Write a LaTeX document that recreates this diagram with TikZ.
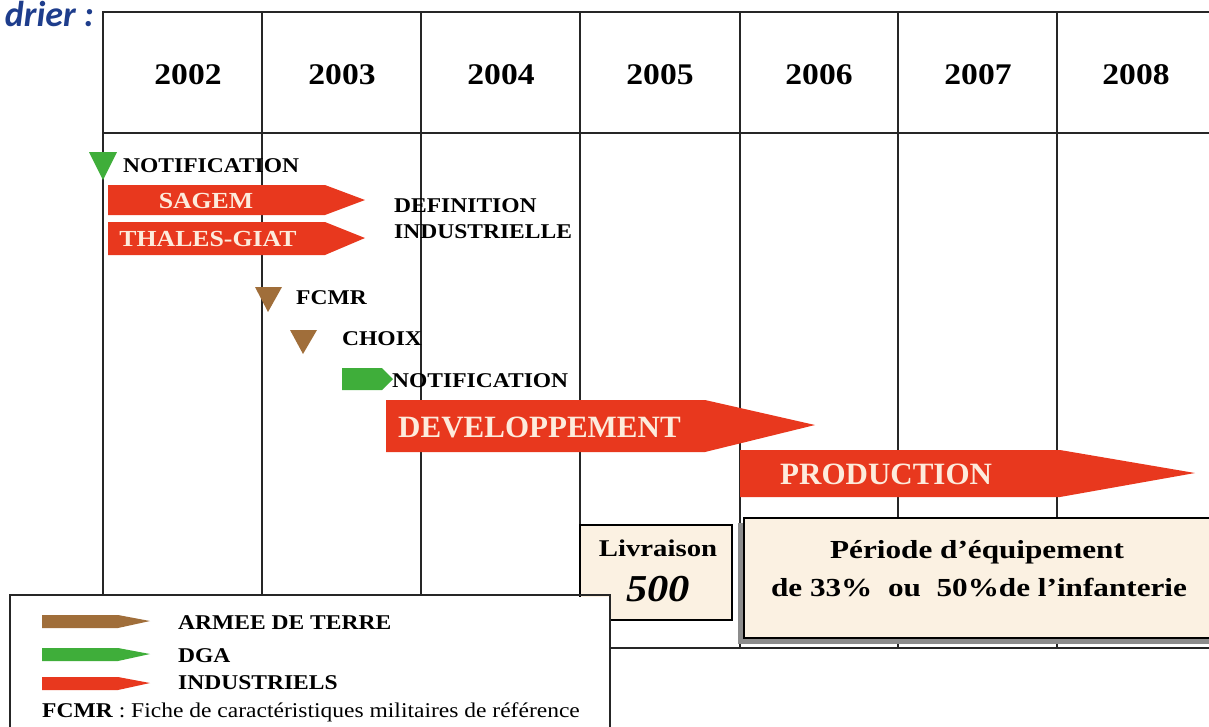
\documentclass[tikz,border=0pt]{standalone}
\usepackage{fontspec}
\setmainfont{Liberation Serif}
\newfontfamily\yearfont{Liberation Serif}[FakeStretch=1.12]
\newfontfamily\boxfont{Liberation Serif}[FakeStretch=1.2]
\newfontfamily\titlefont{Carlito}
\definecolor{redbar}{HTML}{E8381E}
\definecolor{brownbar}{HTML}{A06E3A}
\definecolor{greenbar}{HTML}{3FAE3A}
\definecolor{beige}{HTML}{FBF1E2}
\definecolor{titleblue}{HTML}{1E3D8C}
\definecolor{bartext}{HTML}{FDEBDC}
\tikzset{
  gridline/.style={line width=1.6pt, black!85},
  thickline/.style={line width=2.6pt, black!85},
  yearlbl/.style={font=\yearfont\bfseries\fontsize{30}{34}\selectfont, anchor=center},
  smalllbl/.style={font=\yearfont\bfseries\fontsize{21}{24}\selectfont, anchor=west, inner sep=0pt},
  barlbl/.style={font=\yearfont\bfseries\fontsize{23}{27}\selectfont, text=bartext, inner sep=0pt},
  biglbl/.style={font=\bfseries\fontsize{31}{35}\selectfont, text=bartext, inner sep=0pt, anchor=west},
  boxlbl/.style={font=\boxfont\bfseries\fontsize{26}{30}\selectfont, inner sep=0pt},
  leglbl/.style={font=\yearfont\bfseries\fontsize{21}{24}\selectfont, anchor=west, inner sep=0pt},
}
\begin{document}
\begin{tikzpicture}[x=1pt,y=-1pt]
\useasboundingbox (0,0) rectangle (1209,726);
% title fragment
\node[font=\titlefont\bfseries\itshape\fontsize{36}{40}\selectfont, text=titleblue, anchor=base east, inner sep=0pt] (title) at (94,26) {drier :};
% grid verticals
\draw[gridline] (103,12) -- (103,595);
\draw[gridline] (262,12) -- (262,595);
\draw[gridline] (421,12) -- (421,595);
\draw[gridline] (580,12) -- (580,525);
\draw[gridline] (740,12) -- (740,648);
\draw[gridline] (898,12) -- (898,518);
\draw[gridline] (1057,12) -- (1057,518);
\draw[gridline] (898,638) -- (898,648);
\draw[gridline] (1057,638) -- (1057,648);
% header lines
\draw[thickline] (102,12) -- (1209,12);
\draw[thickline] (102,133) -- (1209,133);
\draw[gridline] (610,648) -- (1209,648);
% years
\node[yearlbl] (y2002) at (188,75) {2002};
\node[yearlbl] (y2003) at (342,75) {2003};
\node[yearlbl] (y2004) at (501,75) {2004};
\node[yearlbl] (y2005) at (660,75) {2005};
\node[yearlbl] (y2006) at (819,75) {2006};
\node[yearlbl] (y2007) at (978,75) {2007};
\node[yearlbl] (y2008) at (1136,75) {2008};
% notification (DGA)
\fill[greenbar] (89,152) -- (117,152) -- (103,180) -- cycle;
\node[smalllbl] (notif1) at (123,166) {NOTIFICATION};
% industrial definition bars
\fill[redbar] (108,185) -- (325,185) -- (365,200) -- (325,215) -- (108,215) -- cycle;
\fill[redbar] (108,222) -- (325,222) -- (365,238) -- (325,255) -- (108,255) -- cycle;
\node[barlbl] (sagem) at (206,201) {SAGEM};
\node[barlbl] (thales) at (208,239) {THALES-GIAT};
\node[smalllbl] (def) at (394,206) {DEFINITION};
\node[smalllbl] (indus) at (394,232) {INDUSTRIELLE};
% FCMR / choix
\fill[brownbar] (255,287) -- (282,287) -- (268,312) -- cycle;
\node[smalllbl] (fcmr) at (296,298) {FCMR};
\fill[brownbar] (290,330) -- (317,330) -- (303,354) -- cycle;
\node[smalllbl] (choix) at (342,339) {CHOIX};
\fill[greenbar] (342,368) -- (382,368) -- (393,379) -- (382,390) -- (342,390) -- cycle;
\node[smalllbl] (notif2) at (392,381) {NOTIFICATION};
% development / production
\fill[redbar] (386,400) -- (705,400) -- (815,425) -- (705,452) -- (386,452) -- cycle;
\node[biglbl] (dev) at (398,427) {DEVELOPPEMENT};
\fill[redbar] (740,450) -- (1060,450) -- (1195,473) -- (1060,497) -- (740,497) -- cycle;
\node[biglbl] (prod) at (780,474) {PRODUCTION};
% livraison box
\draw[fill=beige, line width=1.2pt] (580,525) rectangle (732,620);
\node[font=\boxfont\bfseries\fontsize{24}{28}\selectfont, inner sep=0pt] (livr) at (658,548) {Livraison};
\node[font=\yearfont\bfseries\itshape\fontsize{38}{42}\selectfont, inner sep=0pt] (n500) at (658,589) {500};
% period box
\fill[black!45] (738,523) rectangle (1209,644);
\draw[fill=beige, line width=1.2pt] (744,518) rectangle (1212,638);
\node[boxlbl] (per1) at (977,552) {Période d’équipement};
\node[boxlbl] (per2) at (979,588) {de 33\%\ \ ou\ \ 50\%de l’infanterie};
% legend
\draw[line width=2.6pt, black!85] (10,730) -- (10,595) -- (610,595) -- (610,730);
\fill[white] (11.5,596.5) rectangle (608.5,726);
\fill[brownbar] (42,615) -- (118,615) -- (150,621) -- (118,628) -- (42,628) -- cycle;
\fill[greenbar] (42,648) -- (118,648) -- (150,654) -- (118,661) -- (42,661) -- cycle;
\fill[redbar] (42,677) -- (118,677) -- (150,683) -- (118,690) -- (42,690) -- cycle;
\node[leglbl] (l1) at (178,623) {ARMEE DE TERRE};
\node[leglbl] (l2) at (178,656) {DGA};
\node[leglbl] (l3) at (178,683) {INDUSTRIELS};
\node[font=\yearfont\fontsize{21}{24}\selectfont, anchor=west, inner sep=0pt] (l4) at (42,712) {\textbf{FCMR} : Fiche de caractéristiques militaires de référence};
\end{tikzpicture}
\end{document}
